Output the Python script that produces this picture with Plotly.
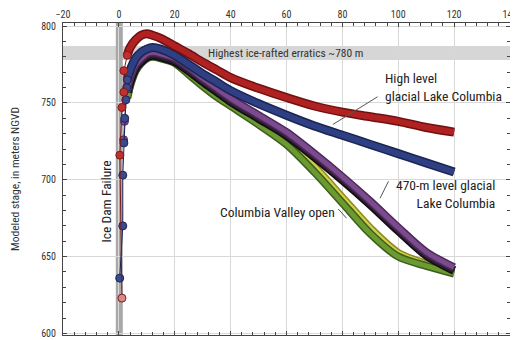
import plotly.graph_objects as go

# ---- data ----
x_main = [3, 4, 6, 8, 10, 12, 15, 20, 25, 30, 35, 40, 50, 60, 70, 80, 90, 100, 110, 120]

red_y    = [781, 786, 791, 794, 795, 794, 792, 787, 782, 776.5, 771.5, 766.5, 759.5, 753.5, 748, 744, 741, 738, 734, 731]
navy_y   = [765, 771, 779, 783, 785, 786, 785, 781, 775, 769, 763.5, 758, 749.5, 742, 735, 729, 723, 717, 711, 705]
purple_y = [759, 766, 775, 779, 782, 783, 782, 779, 773, 766, 759.5, 753, 742, 731, 717, 702, 686, 669, 653, 643]
black_y  = [757, 764, 773, 777, 780, 781, 780, 777, 771, 764, 757.5, 751, 740, 729, 715, 700, 684, 667, 651, 641]
green_y  = [753, 761, 771, 776, 779, 780, 779, 776, 768.5, 761, 754, 748, 736, 723, 705, 685, 665, 650, 644, 639]
yellow_y = [755, 763, 772, 777, 780, 781, 780, 777, 770.5, 763, 756, 750, 738, 725, 708, 688, 668, 652, 645, 640]

red_rise_x = [1.1, 0.35, 1.1, 1.8, 1.8, 3]
red_rise_y = [623, 716, 747, 757, 771, 781]
navy_rise_x = [0.3, 1.4, 1.4, 1.8, 2.1, 2.5, 2.8, 3]
navy_rise_y = [636, 670, 703, 724, 740, 752, 760, 765]
purple_rise_x = [1.7, 2.0, 3]
purple_rise_y = [726, 738, 759]

band_y = [778, 787]          # highest ice-rafted erratics band
dam_x = [-1.1, 1.4]          # ice dam failure band

x_ticks = [-20, 0, 20, 40, 60, 80, 100, 120, 140]
y_ticks = [600, 650, 700, 750, 800]

FONT = "Liberation Sans Narrow, Roboto Condensed, DejaVu Sans Condensed, Arial Narrow, sans-serif"

fig = go.Figure()

def thick(y, fill, edge, name, w=6, ew=9):
    fig.add_trace(go.Scatter(x=x_main, y=y, mode="lines", name=name + " edge",
                             line=dict(color=edge, width=ew, shape="spline", smoothing=0.8),
                             hoverinfo="skip", showlegend=False))
    fig.add_trace(go.Scatter(x=x_main, y=y, mode="lines", name=name,
                             line=dict(color=fill, width=w, shape="spline", smoothing=0.8),
                             showlegend=False))

def rise(xs, ys, fill, edge, name, colors=None):
    fig.add_trace(go.Scatter(x=xs, y=ys, mode="lines+markers", name=name + " rise",
                             line=dict(color=edge, width=1),
                             marker=dict(size=8, color=colors if colors else fill,
                                         line=dict(color=edge, width=1)),
                             showlegend=False))

thick(yellow_y, "#d2cf48", "#8f8a25", "yellow")
thick(green_y, "#6a9a30", "#3d5e1c", "green", w=5, ew=8)
thick(black_y, "#2a1f2e", "#140c16", "black")
thick(purple_y, "#7c4a8e", "#4c2a58", "purple", w=5, ew=8)
thick(navy_y, "#2f3f84", "#1b2452", "navy")
thick(red_y, "#b02222", "#701010", "red")

rise(purple_rise_x, purple_rise_y, "#7c4a8e", "#4c2a58", "purple")
rise(navy_rise_x, navy_rise_y, "#3a4a8e", "#1b2452", "navy")
red_cols = ["#d98a8a"] + ["#c03030"] * (len(red_rise_x) - 1)
rise(red_rise_x, red_rise_y, "#c03030", "#801818", "red", colors=red_cols)

shapes = [
    dict(type="rect", xref="x", yref="y", x0=-20, x1=140, y0=band_y[0], y1=band_y[1],
         fillcolor="#d6d6d6", line=dict(width=0), layer="below"),
    dict(type="rect", xref="x", yref="y", x0=dam_x[0], x1=dam_x[1], y0=598, y1=803,
         fillcolor="#a8a8a8", line=dict(width=0), layer="below"),
    # leader lines
    dict(type="line", xref="x", yref="y", x0=92.6, y0=754, x1=76.6, y1=736,
         line=dict(color="#555", width=1)),
    dict(type="line", xref="x", yref="y", x0=96.5, y0=699, x1=93.5, y1=688,
         line=dict(color="#555", width=1)),
    dict(type="line", xref="x", yref="y", x0=78.5, y0=681, x1=81.5, y1=675,
         line=dict(color="#555", width=1)),
]

ann_font = dict(family=FONT, size=13.5, color="#222")
annotations = [
    dict(x=59.5, y=782.5, text="Highest ice-rafted erratics ~780 m", showarrow=False,
         font=dict(family=FONT, size=11.5, color="#333"), xanchor="center", yanchor="middle"),
    dict(x=94.5, y=760.5, text="High level<br>glacial Lake Columbia", showarrow=False,
         font=ann_font, xanchor="left", yanchor="middle", align="left"),
    dict(x=135.5, y=690.5, text="470-m level glacial<br>Lake Columbia", showarrow=False,
         font=ann_font, xanchor="right", yanchor="middle", align="right"),
    dict(x=78, y=679, text="Columbia Valley open", showarrow=False,
         font=ann_font, xanchor="right", yanchor="middle"),
    dict(x=-4.5, y=686, text="Ice Dam Failure", showarrow=False, textangle=-90,
         font=ann_font, xanchor="center", yanchor="middle"),
]

axis_common = dict(showline=True, linecolor="#444", linewidth=1, mirror="ticks",
                   ticks="inside", ticklen=4, tickcolor="#444",
                   showgrid=True, gridcolor="#d8d8d8", gridwidth=1, zeroline=False,
                   tickfont=dict(family=FONT, size=10, color="#333"))

# the page places the figure 8 px in from the top-left corner of the window
fig.update_layout(
    width=510, height=332,
    margin=dict(l=55, r=8, t=15, b=5, autoexpand=False),
    paper_bgcolor="white", plot_bgcolor="white",
    shapes=shapes, annotations=annotations,
    xaxis=dict(range=[-20, 140], side="top", tickmode="array", tickvals=x_ticks,
               minor=dict(dtick=4, tick0=0, ticks="inside", ticklen=3, tickcolor="#444", showgrid=False),
               **axis_common),
    yaxis=dict(range=[599, 802], tickmode="array", tickvals=y_ticks,
               minor=dict(dtick=10, tick0=600, ticks="inside", ticklen=3, tickcolor="#444", showgrid=False),
               ticklabelstandoff=4,
               title=dict(text="Modeled stage, in meters NGVD", standoff=24,
                          font=dict(family=FONT, size=11.5, color="#333")),
               **axis_common),
)

fig.write_html("out.html")
